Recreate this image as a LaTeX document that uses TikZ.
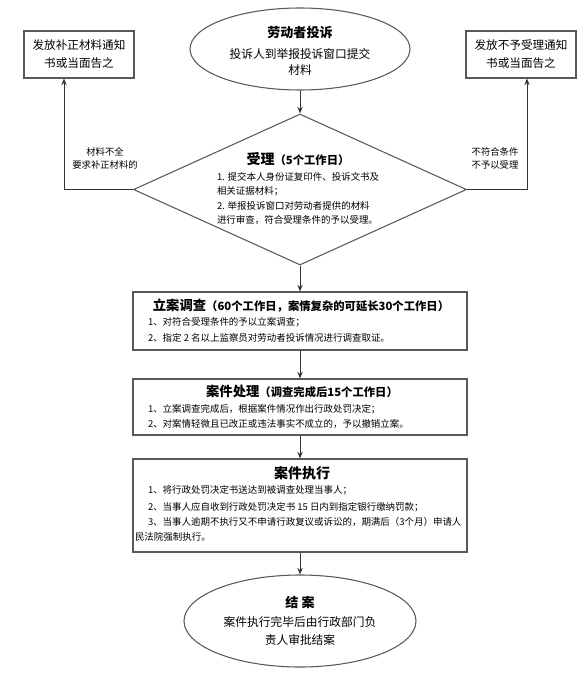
\documentclass[tikz,border=0pt]{standalone}
\usepackage{fontspec}
\setmainfont{Noto Sans CJK SC}
\usetikzlibrary{shapes.geometric,arrows.meta}
\begin{document}
\begin{tikzpicture}[x=0.75pt,y=-0.75pt,
  shapeline/.style={draw=black!65, line width=0.8pt, inner sep=0pt},
  ovalnode/.style={shapeline, ellipse},
  boxnode/.style={shapeline, rectangle},
  conn/.style={draw=black!80, line width=0.7pt},
  arr/.style={conn,-{Stealth[length=5pt,width=4pt]}},
  txt/.style={inner sep=0pt, outer sep=0pt},
  ovaltxt/.style={txt, font=\fontsize{8.8}{10}\selectfont},
  ovaltitle/.style={txt, font=\fontsize{9.8}{11}\selectfont\bfseries},
  sidetxt/.style={txt, align=center, font=\fontsize{8.7}{13.5}\selectfont},
  labeltxt/.style={txt, align=center, font=\fontsize{7}{9.2}\selectfont},
  body/.style={txt, anchor=west, font=\fontsize{7.1}{10}\selectfont},
  bigt/.style={},
]
\useasboundingbox (0,0) rectangle (586,681);

% start ellipse
\node[ovalnode, minimum width=165pt, minimum height=61.5pt] (start) at (300,49) {};
\node[ovaltitle] (t0) at (300,33) {劳动者投诉};
\node[ovaltxt] (t1) at (300,54) {投诉人到举报投诉窗口提交};
\node[ovaltxt] (t2) at (300,70) {材料};

% side boxes
\node[boxnode, minimum width=82.5pt, minimum height=35.25pt] (lbox) at (79,54.5) {};
\node[sidetxt] (lboxt) at (79,54.5) {发放补正材料通知\\书或当面告之};
\node[boxnode, minimum width=82.5pt, minimum height=35.25pt] (rbox) at (521,54.5) {};
\node[sidetxt] (rboxt) at (521,54.5) {发放不予受理通知\\书或当面告之};

% diamond
\node[shapeline, diamond, minimum width=249.75pt, minimum height=113.25pt] (acc) at (300,189.5) {};
\node[txt] (acct) at (298,159) {\fontsize{10.5}{12}\selectfont\bfseries 受理\fontsize{8.5}{10}\selectfont（5个工作日）};
\node[body, anchor=north west, align=left, font=\fontsize{7.1}{10.9}\selectfont] (accb) at (217,172)
  {1. 提交本人身份证复印件、投诉文书及\\相关证据材料；\\2. 举报投诉窗口对劳动者提供的材料\\进行审查，符合受理条件的予以受理。};

% labels
\node[labeltxt] (ll) at (105,158.5) {材料不全\\要求补正材料的};
\node[labeltxt] (rl) at (495,158.5) {不符合条件\\不予以受理};

% case boxes
\node[boxnode, minimum width=250.5pt, minimum height=43.5pt] (c1) at (300,321) {};
\node[txt] (c1t) at (301,306) {\fontsize{10}{12}\selectfont\bfseries 立案调查\fontsize{8.5}{10}\selectfont（60个工作日，案情复杂的可延长30个工作日）};
\node[body] (c1a) at (148,322) {1、对符合受理条件的予以立案调查；};
\node[body] (c1b) at (148,338) {2、指定 2 名以上监察员对劳动者投诉情况进行调查取证。};

\node[boxnode, minimum width=250.5pt, minimum height=42pt] (c2) at (300,407) {};
\node[txt] (c2t) at (302,391) {\fontsize{10}{12}\selectfont\bfseries 案件处理\fontsize{8.5}{10}\selectfont（调查完成后15个工作日）};
\node[body] (c2a) at (148,409) {1、立案调查完成后，根据案件情况作出行政处罚决定；};
\node[body] (c2b) at (148,424) {2、对案情轻微且已改正或违法事实不成立的，予以撤销立案。};

\node[boxnode, minimum width=250.5pt, minimum height=69.75pt] (c3) at (300,505.5) {};
\node[txt] (c3t) at (302,473) {\fontsize{10.5}{12}\selectfont\bfseries 案件执行};
\node[body] (c3a) at (148,490) {1、将行政处罚决定书送达到被调查处理当事人；};
\node[body] (c3b) at (148,507) {2、当事人应自收到行政处罚决定书 15 日内到指定银行缴纳罚款；};
\node[body] (c3c) at (148,522) {3、当事人逾期不执行又不申请行政复议或诉讼的，期满后（3个月）申请人};
\node[body] (c3d) at (135,537) {民法院强制执行。};

% end ellipse
\node[ovalnode, minimum width=174pt, minimum height=69pt] (fin) at (300,621) {};
\node[ovaltitle] (f0) at (300,602) {结\ 案};
\node[ovaltxt] (f1) at (300,622) {案件执行完毕后由行政部门负};
\node[ovaltxt] (f2) at (300,640) {责人审批结案};

% connectors
\coordinate (lc) at (64,189.5);
\coordinate (rc) at (527,189.5);
\draw[arr] (start.south) -- (acc.north);
\draw[arr] (acc.west) -- (lc) -- (lc |- lbox.south);
\draw[arr] (acc.east) -- (rc) -- (rc |- rbox.south);
\draw[arr] (acc.south) -- (c1.north);
\draw[arr] (c1.south) -- (c2.north);
\draw[arr] (c2.south) -- (c3.north);
\draw[arr] (c3.south) -- (fin.north);
\end{tikzpicture}
\end{document}
